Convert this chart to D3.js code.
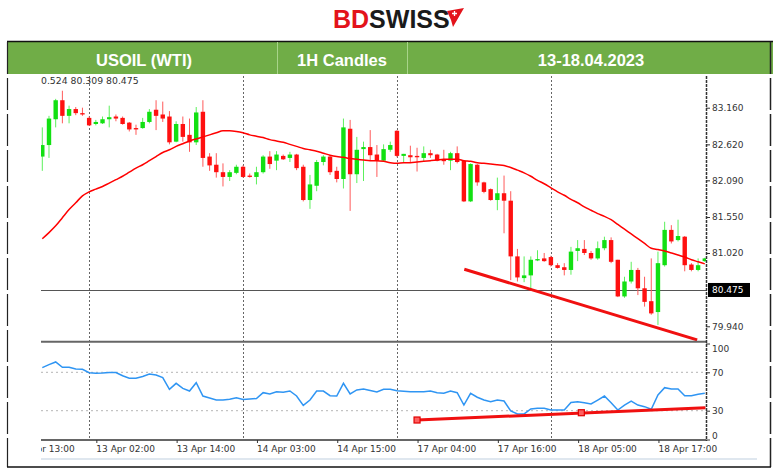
<!DOCTYPE html>
<html><head><meta charset="utf-8">
<script src="https://cdn.jsdelivr.net/npm/d3@7"></script>
<style>html,body{margin:0;padding:0;background:#fff;} svg{display:block}</style>
</head><body>
<svg id="c" width="780" height="473"></svg>
<script>
// ---------- DATA ----------
const opens  = [82.44,82.61,82.99,83.27,83.04,83.14,83.08,83.01,82.92,82.93,82.99,83.03,83.01,82.94,82.86,82.86,82.95,83.13,83.06,83.03,
                82.66,82.92,82.76,82.65,83.10,82.44,82.32,82.21,82.14,82.20,82.29,82.16,82.14,82.21,82.44,82.38,82.45,82.42,82.47,82.29,
                81.80,82.01,82.36,82.44,82.23,82.11,82.85,82.18,82.55,82.58,82.47,82.38,82.54,82.82,82.45,82.46,82.45,82.42,82.49,82.47,
                82.39,82.38,82.49,82.38,81.78,82.32,82.06,81.96,81.80,81.90,81.79,80.97,80.65,80.69,80.91,80.94,80.96,80.84,80.81,80.77,
                81.05,81.08,81.02,80.94,81.09,81.21,80.92,80.38,80.60,80.77,80.50,80.31,80.15,80.84,81.36,81.21,81.26,80.85,80.77,80.90];
const highs  = [82.87,83.04,83.29,83.41,83.19,83.17,83.16,83.03,82.98,83.03,83.19,83.06,83.03,82.95,82.91,83.01,83.14,83.27,83.25,83.11,
                82.96,83.03,83.00,83.17,83.27,82.49,82.49,82.34,82.24,82.32,82.31,82.19,82.29,82.46,82.52,82.52,82.47,82.51,82.48,82.32,
                82.17,82.39,82.46,82.46,82.29,83.00,82.98,82.73,82.66,82.83,82.61,82.62,82.66,82.83,82.48,82.60,82.57,82.59,82.54,82.48,
                82.54,82.51,82.59,82.39,82.34,82.33,82.07,81.97,82.13,82.16,81.93,81.08,80.97,80.97,81.06,81.02,80.98,80.87,80.87,81.11,
                81.21,81.21,81.05,81.19,81.26,81.25,80.92,80.67,80.89,80.80,80.67,80.94,81.04,81.48,81.43,81.51,81.27,80.87,80.94,80.95];
const lows   = [82.23,82.42,82.87,82.93,82.93,83.05,83.04,82.89,82.90,82.92,82.87,82.96,82.91,82.81,82.76,82.85,82.93,82.83,82.95,82.62,
                82.65,82.66,82.51,82.61,82.29,82.23,82.13,82.00,82.08,82.18,82.13,82.13,82.03,82.19,82.26,82.24,82.39,82.36,82.24,81.78,
                81.67,81.93,82.31,82.17,82.06,81.97,81.64,82.05,82.08,82.38,82.14,82.37,82.51,82.43,82.36,82.36,82.22,82.36,82.42,82.37,
                82.32,82.24,82.34,81.77,81.77,82.01,81.90,81.79,81.65,81.31,80.62,80.60,80.59,80.49,80.90,80.89,80.82,80.79,80.69,80.70,
                80.90,80.99,80.92,80.92,81.06,80.87,80.37,80.36,80.57,80.40,80.23,80.11,79.96,80.82,81.16,81.19,80.75,80.75,80.75,80.89];
const closes = [82.61,83.00,83.27,83.04,83.14,83.08,83.06,82.90,82.95,82.99,83.02,83.00,82.92,82.84,82.84,82.95,83.10,83.04,83.00,82.65,
                82.92,82.73,82.65,83.09,82.42,82.31,82.21,82.14,82.21,82.29,82.14,82.14,82.21,82.44,82.33,82.47,82.40,82.47,82.27,81.80,
                82.03,82.36,82.44,82.21,82.11,82.87,82.18,82.54,82.58,82.46,82.38,82.55,82.61,82.45,82.48,82.43,82.43,82.49,82.46,82.38,
                82.38,82.49,82.36,81.78,82.33,82.06,81.92,81.80,81.90,81.79,80.97,80.66,80.69,80.92,80.93,80.90,80.84,80.80,80.77,81.04,
                81.09,81.02,80.94,81.09,81.21,80.89,80.38,80.60,80.77,80.50,80.30,80.13,80.87,81.36,81.19,81.27,80.84,80.77,80.84,80.94];
const maValues = [81.23,81.32,81.42,81.54,81.66,81.76,81.86,81.92,81.96,82.00,82.05,82.10,82.15,82.21,82.27,82.32,82.38,82.44,82.50,82.54,
                  82.59,82.63,82.67,82.70,82.73,82.76,82.79,82.82,82.82,82.81,82.79,82.76,82.74,82.72,82.69,82.67,82.65,82.62,82.59,82.56,
                  82.54,82.52,82.49,82.46,82.44,82.43,82.41,82.40,82.39,82.38,82.38,82.37,82.35,82.34,82.35,82.35,82.36,82.37,82.38,82.39,
                  82.40,82.40,82.40,82.38,82.37,82.35,82.34,82.33,82.32,82.31,82.28,82.24,82.20,82.15,82.09,82.04,81.98,81.92,81.87,81.81,
                  81.76,81.70,81.65,81.60,81.56,81.51,81.44,81.37,81.30,81.23,81.16,81.09,81.07,81.05,81.02,80.99,80.96,80.92,80.89,80.86];
const rsiValues = [74.9,78.0,80.8,75.2,75.2,73.4,73.1,69.6,69.0,69.3,69.8,69.8,66.4,63.8,63.8,65.6,68.2,67.2,64.4,52.3,
                   58.5,53.3,50.5,59.2,45.3,43.2,41.1,41.1,41.9,43.5,41.7,42.2,42.7,48.8,47.4,49.8,49.2,50.5,45.3,35.6,
                   41.1,50.5,50.5,45.6,45.3,58.5,47.4,51.6,52.6,51.0,49.5,52.3,52.4,50.8,50.3,49.8,49.8,49.8,50.5,48.8,
                   48.1,50.5,48.8,35.9,48.1,44.0,41.1,39.4,41.1,40.1,29.7,26.6,26.6,31.8,32.5,32.5,30.7,30.7,30.7,38.5,
                   39.4,38.3,37.0,41.1,45.3,38.3,30.7,35.9,40.1,35.9,34.2,31.5,46.4,54.0,52.6,52.6,45.6,45.6,47.1,48.1];
const priceTicks = [83.16, 82.62, 82.09, 81.55, 81.02, 79.94];
const currentPrice = 80.475;
const rsiTicks = [100, 70, 30, 0];
const rsiLevels = [70, 30];
const timeTickIndex  = [-4, 8, 20, 32, 44, 56, 68, 80, 92];
const timeTickLabels = ["12 Apr 13:00","13 Apr 02:00","13 Apr 14:00","14 Apr 03:00","14 Apr 15:00",
                        "17 Apr 04:00","17 Apr 16:00","18 Apr 05:00","18 Apr 17:00"];
const daySeparators = [7, 30, 53, 76];
const priceTrend = [{i: 63.06, v: 80.78}, {i: 97.86, v: 79.74}];
const rsiTrend = [{i: 56.0, v: 20.3}, {i: 99.1, v: 33.1}];
const rsiTrendMarkers = [{i: 56.0, v: 20.3}, {i: 80.55, v: 27.9}];
const headerTitles = ["USOIL (WTI)", "1H Candles", "13-18.04.2023"];
const ohlcText = "0.524 80.309 80.475";

// ---------- CHART ----------
const svg = d3.select("#c");
const L = 41, R = 706;
const mainTop = 76, mainBottom = 341, rsiTop = 342, rsiBottom = 440;

const x = d3.scaleLinear().domain([0, 99]).range([42.3, 704.8]);
const y = d3.scaleLinear().domain([83.16, 79.94]).range([107.7, 326.3]);
const r = d3.scaleLinear().domain([0, 100]).range([439.5, 343.5]);

const defs = svg.append("defs");
defs.append("clipPath").attr("id","clipMain").append("rect").attr("x",L).attr("y",mainTop).attr("width",R-L).attr("height",mainBottom-mainTop);
defs.append("clipPath").attr("id","clipRsi").append("rect").attr("x",L).attr("y",rsiTop).attr("width",R-L).attr("height",rsiBottom-rsiTop);
defs.append("clipPath").attr("id","clipTime").append("rect").attr("x",L).attr("y",rsiBottom).attr("width",780-L).attr("height",30);

// Logo
const logo = svg.append("text").attr("x",333).attr("y",28)
  .style("font-family","'Liberation Sans Narrow','Liberation Sans',Arial,sans-serif")
  .style("font-weight","bold").style("font-size","25px");
logo.append("tspan").attr("fill","#e3131b").text("BD");
logo.append("tspan").attr("fill","#1a1a1a").text("SWISS");
svg.append("path").attr("d","M447,11 L464,8 L453,27 L451,20 Z").attr("fill","#e3131b");
svg.append("path").attr("d","M452,13.5 h5 M454.5,11 v5").attr("stroke","#fff").attr("stroke-width",1.3);

// Header band
svg.append("rect").attr("x",7).attr("y",42).attr("width",766).attr("height",32).attr("fill","#70ad47");
svg.append("line").attr("x1",7).attr("x2",773).attr("y1",41.5).attr("y2",41.5).attr("stroke","#111").attr("stroke-width",1.5);
[277, 407].forEach(d => svg.append("line").attr("x1",d+0.5).attr("x2",d+0.5).attr("y1",42).attr("y2",74).attr("stroke","#a8d48a").attr("stroke-width",1));
const hx = [144, 342, 591];
svg.selectAll("text.hdr").data(headerTitles).enter().append("text").attr("class","hdr")
  .attr("x",(d,i)=>hx[i]).attr("y",66).attr("text-anchor","middle")
  .style("font-family","'Liberation Sans',Arial,sans-serif").style("font-weight","bold").style("font-size","16.5px")
  .attr("fill","#fff").text(d=>d);

// Frame
svg.append("line").attr("x1",7.5).attr("x2",7.5).attr("y1",42).attr("y2",467).attr("stroke","#222").attr("stroke-width",1.2).attr("stroke-dasharray","32,4");
svg.append("line").attr("x1",770.5).attr("x2",770.5).attr("y1",42).attr("y2",467).attr("stroke","#222").attr("stroke-width",1.5).attr("stroke-dasharray","32,4");
svg.append("line").attr("x1",7).attr("x2",771).attr("y1",467).attr("y2",467).attr("stroke","#111").attr("stroke-width",1.5);
svg.append("line").attr("x1",L).attr("x2",757).attr("y1",459).attr("y2",459).attr("stroke","#dfe7ef").attr("stroke-width",2);

// Day separators
svg.append("g").selectAll("line").data(daySeparators).enter().append("line")
  .attr("x1",d=>Math.round(x(d))+0.5).attr("x2",d=>Math.round(x(d))+0.5).attr("y1",mainTop).attr("y2",rsiBottom)
  .attr("stroke","#666").attr("stroke-width",1).attr("stroke-dasharray","2,2");

// RSI level gridlines
svg.append("g").selectAll("line").data(rsiLevels).enter().append("line")
  .attr("x1",L).attr("x2",R).attr("y1",d=>r(d)).attr("y2",d=>r(d))
  .attr("stroke","#b5b5b5").attr("stroke-width",1).attr("stroke-dasharray","2,3");

// Current price line
svg.append("line").attr("x1",L).attr("x2",R).attr("y1",Math.round(y(currentPrice))+0.5).attr("y2",Math.round(y(currentPrice))+0.5)
  .attr("stroke","#555").attr("stroke-width",1.2);

// Main panel
const gm = svg.append("g").attr("clip-path","url(#clipMain)");
const idx = d3.range(opens.length);
const green = "#12e012", red = "#ff1010";
gm.selectAll("line.wick").data(idx).enter().append("line").attr("class","wick")
  .attr("x1",i=>x(i)).attr("x2",i=>x(i)).attr("y1",i=>y(highs[i])).attr("y2",i=>y(lows[i]))
  .attr("stroke",i=>closes[i]>=opens[i]?"#5cf05c":"#ff5a5a").attr("stroke-width",1);
gm.selectAll("rect.body").data(idx).enter().append("rect").attr("class","body")
  .attr("x",i=>x(i)-2.2).attr("width",4.4)
  .attr("y",i=>Math.min(y(opens[i]),y(closes[i])))
  .attr("height",i=>Math.max(1.2,Math.abs(y(opens[i])-y(closes[i]))))
  .attr("fill",i=>closes[i]>=opens[i]?green:red);
gm.append("path").datum(maValues)
  .attr("d",d3.line().x((d,i)=>x(i)).y(d=>y(d)).curve(d3.curveMonotoneX))
  .attr("fill","none").attr("stroke","#ff0000").attr("stroke-width",1.5);
gm.append("path").datum(priceTrend)
  .attr("d",d3.line().x(d=>x(d.i)).y(d=>y(d.v)))
  .attr("stroke","#f01010").attr("stroke-width",3).attr("fill","none");

// OHLC text
svg.append("text").attr("x",L).attr("y",83.5).style("font-family","'DejaVu Sans',sans-serif").style("font-size","9.3px")
  .attr("fill","#333").text(ohlcText);

// Separator between panels
svg.append("line").attr("x1",L).attr("x2",R).attr("y1",341.8).attr("y2",341.8).attr("stroke","#666").attr("stroke-width",2);

// RSI panel
const gr = svg.append("g").attr("clip-path","url(#clipRsi)");
gr.append("path").datum(rsiValues)
  .attr("d",d3.line().x((d,i)=>x(i)).y(d=>r(d)))
  .attr("fill","none").attr("stroke","#2f95f3").attr("stroke-width",1.5);
gr.append("path").datum(rsiTrend)
  .attr("d",d3.line().x(d=>x(d.i)).y(d=>r(d.v)))
  .attr("stroke","#f01010").attr("stroke-width",3).attr("fill","none");
gr.selectAll("rect.mk").data(rsiTrendMarkers).enter().append("rect").attr("class","mk")
  .attr("x",d=>x(d.i)-3).attr("y",d=>r(d.v)-3).attr("width",6).attr("height",6)
  .attr("fill","#ff6060").attr("stroke","#e00000").attr("stroke-width",1.2);

// RSI bottom axis line
svg.append("line").attr("x1",L).attr("x2",R).attr("y1",440).attr("y2",440).attr("stroke","#333").attr("stroke-width",1.5);

// Right axis line
svg.append("line").attr("x1",R+0.5).attr("x2",R+0.5).attr("y1",mainTop).attr("y2",rsiBottom+1)
  .attr("stroke","#333").attr("stroke-width",1.5).attr("stroke-dasharray","3,1");

const axisFont = g => g.selectAll("text").style("font-family","'DejaVu Sans',sans-serif").style("font-size","9px").attr("fill","#333");

// Price axis
const ya = svg.append("g").attr("transform",`translate(${R},0)`)
  .call(d3.axisRight(y).tickValues(priceTicks).tickFormat(d3.format(".3f")).tickSize(4).tickPadding(2));
ya.select(".domain").remove();
ya.selectAll(".tick line").attr("stroke","#333");
axisFont(ya);

// Current price label
const cp = svg.append("g").attr("transform",`translate(${R+2},${y(currentPrice)})`);
cp.append("rect").attr("x",0).attr("y",-7).attr("width",42).attr("height",14).attr("fill","#000");
cp.append("text").attr("x",4).attr("y",3.5).style("font-family","'DejaVu Sans',sans-serif").style("font-size","9px")
  .attr("fill","#fff").text(d3.format(".3f")(currentPrice));

// RSI axis
const ra = svg.append("g").attr("transform",`translate(${R},0)`)
  .call(d3.axisRight(r).tickValues(rsiTicks).tickSize(4).tickPadding(2));
ra.select(".domain").remove();
ra.selectAll(".tick line").attr("stroke","#333");
axisFont(ra);
ra.selectAll(".tick text").attr("dy",d=> d===100 ? "0.9em" : d===0 ? "-0.15em" : "0.32em");

// Time axis (clip on outer group in page coordinates)
const xaWrap = svg.append("g").attr("clip-path","url(#clipTime)");
const xa = xaWrap.append("g").attr("transform",`translate(0,${rsiBottom})`)
  .call(d3.axisBottom(x).tickValues(timeTickIndex).tickFormat((d,i)=>timeTickLabels[i]).tickSize(3).tickPadding(3));
xa.select(".domain").remove();
xa.selectAll(".tick line").attr("stroke","#333").attr("transform","translate(0.5,0)");
axisFont(xa);
xa.selectAll(".tick text").attr("text-anchor","start");
</script>
</body></html>
